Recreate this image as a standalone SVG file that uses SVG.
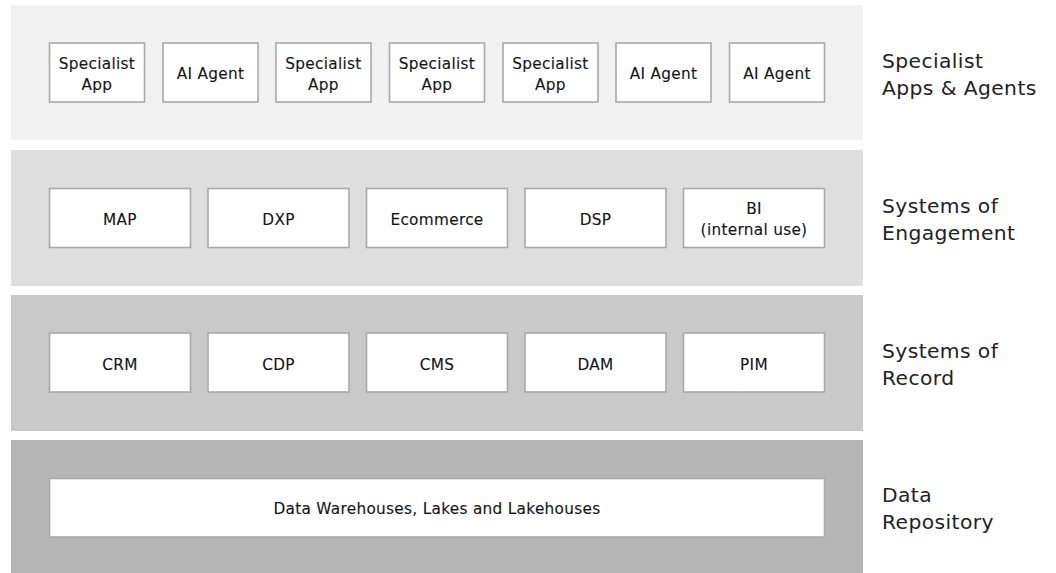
<svg xmlns="http://www.w3.org/2000/svg" width="1056" height="573" viewBox="0 0 1056 573">
  <style>
    .band1 { fill: #f1f1f1; }
    .band2 { fill: #dedede; }
    .band3 { fill: #c9c9c9; }
    .band4 { fill: #b5b5b5; }
    .box { fill: #ffffff; stroke: #a9a9a9; stroke-width: 1.6; }
    .t { font-family: "DejaVu Sans", "Noto Sans", sans-serif; font-size: 15.3px; letter-spacing: 0.3px; fill: #141414; stroke: #141414; stroke-width: 0.12px; text-anchor: middle; }
    .lbl { font-family: "DejaVu Sans", "Noto Sans", sans-serif; font-size: 20.3px; letter-spacing: 0.4px; fill: #222222; }
  </style>
  <rect width="1056" height="573" fill="#ffffff"/>

  <!-- layer bands -->
  <g id="bands">
    <rect class="band1" x="11" y="5" width="852" height="135"/>
    <rect class="band2" x="11" y="150" width="852" height="136"/>
    <rect class="band3" x="11" y="295" width="852" height="136"/>
    <rect class="band4" x="11" y="440" width="852" height="133"/>
  </g>

  <!-- layer labels -->
  <g id="labels">
    <text class="lbl" x="882" y="67.5">Specialist</text>
    <text class="lbl" x="882" y="95">Apps &amp; Agents</text>
    <text class="lbl" x="882" y="212.5">Systems of</text>
    <text class="lbl" x="882" y="240">Engagement</text>
    <text class="lbl" x="882" y="357.5">Systems of</text>
    <text class="lbl" x="882" y="384.5">Record</text>
    <text class="lbl" x="882" y="502">Data</text>
    <text class="lbl" x="882" y="529">Repository</text>
  </g>

  <!-- specialist apps & agents -->
  <g id="app1"><rect class="box" x="49.5" y="43" width="95" height="59"/><text class="t" x="97" y="68.5">Specialist</text><text class="t" x="97" y="90">App</text></g>
  <g id="agent1"><rect class="box" x="163" y="43" width="95" height="59"/><text class="t" x="210.5" y="79">AI Agent</text></g>
  <g id="app2"><rect class="box" x="276" y="43" width="95" height="59"/><text class="t" x="323.5" y="68.5">Specialist</text><text class="t" x="323.5" y="90">App</text></g>
  <g id="app3"><rect class="box" x="389.5" y="43" width="95" height="59"/><text class="t" x="437" y="68.5">Specialist</text><text class="t" x="437" y="90">App</text></g>
  <g id="app4"><rect class="box" x="503" y="43" width="95" height="59"/><text class="t" x="550.5" y="68.5">Specialist</text><text class="t" x="550.5" y="90">App</text></g>
  <g id="agent2"><rect class="box" x="616" y="43" width="95" height="59"/><text class="t" x="663.5" y="79">AI Agent</text></g>
  <g id="agent3"><rect class="box" x="729.5" y="43" width="95" height="59"/><text class="t" x="777" y="79">AI Agent</text></g>

  <!-- systems of engagement -->
  <g id="map"><rect class="box" x="49.5" y="188.5" width="141" height="59"/><text class="t" x="120" y="225">MAP</text></g>
  <g id="dxp"><rect class="box" x="208" y="188.5" width="141" height="59"/><text class="t" x="278.5" y="225">DXP</text></g>
  <g id="ecommerce"><rect class="box" x="366.5" y="188.5" width="141" height="59"/><text class="t" x="437" y="225">Ecommerce</text></g>
  <g id="dsp"><rect class="box" x="525" y="188.5" width="141" height="59"/><text class="t" x="595.5" y="225">DSP</text></g>
  <g id="bi"><rect class="box" x="683.5" y="188.5" width="141" height="59"/><text class="t" x="754" y="213.5">BI</text><text class="t" x="754" y="235">(internal use)</text></g>

  <!-- systems of record -->
  <g id="crm"><rect class="box" x="49.5" y="333" width="141" height="59"/><text class="t" x="120" y="369.5">CRM</text></g>
  <g id="cdp"><rect class="box" x="208" y="333" width="141" height="59"/><text class="t" x="278.5" y="369.5">CDP</text></g>
  <g id="cms"><rect class="box" x="366.5" y="333" width="141" height="59"/><text class="t" x="437" y="369.5">CMS</text></g>
  <g id="dam"><rect class="box" x="525" y="333" width="141" height="59"/><text class="t" x="595.5" y="369.5">DAM</text></g>
  <g id="pim"><rect class="box" x="683.5" y="333" width="141" height="59"/><text class="t" x="754" y="369.5">PIM</text></g>

  <!-- data repository -->
  <g id="warehouse"><rect class="box" x="49.5" y="478.5" width="775" height="58.5"/><text class="t" x="437" y="514">Data Warehouses, Lakes and Lakehouses</text></g>

  <g id="connectors"/>
</svg>
